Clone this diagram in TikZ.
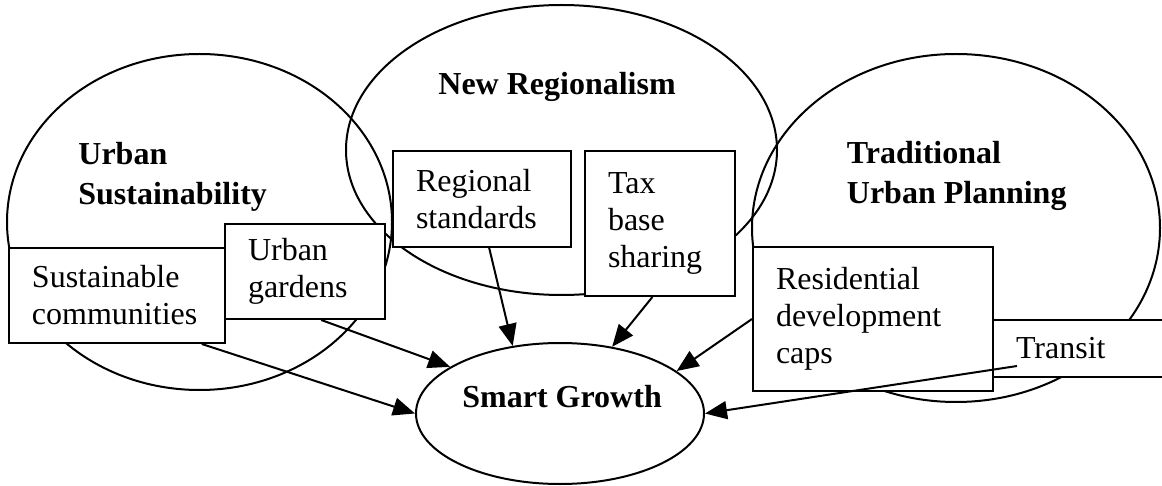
\documentclass[tikz,border=0pt]{standalone}
\usepackage{fontspec}
\setmainfont{Liberation Serif}
\usetikzlibrary{positioning,calc,shapes.geometric,arrows.meta}
\tikzset{>={Triangle[length=11pt,width=9pt]}}
\tikzset{
  field/.style={ellipse,draw,line width=1pt,inner sep=0pt},
  title/.style={anchor=west,align=left,inner sep=0pt,
    font=\fontsize{16}{20}\selectfont\bfseries},
  item/.style={draw,fill=white,line width=1pt,anchor=north west,align=left,
    inner xsep=11.5pt,inner ysep=0pt,font=\fontsize{16}{18.5}\selectfont},
  feed/.style={->,line width=1pt}
}

\begin{document}
\begin{tikzpicture}[x=0.5pt,y=-0.5pt]
\useasboundingbox (0,0) rectangle (1162,486);
\clip (0,0) rectangle (1162,486);
% Units are pixels of the original, y downwards

% Centres of the fields and of the goal
\coordinate (U) at (199.5,222);
\coordinate (R) at (561.5,150);
\coordinate (P) at (956,228);
\coordinate (G) at (560,413.5);

% Draw the three fields
\node [field,minimum width=192.5pt,minimum height=168pt] (us) at (U) {};
\node [field,minimum width=215.5pt,minimum height=145pt] (nr) at (R) {};
\node [field,minimum width=204pt,minimum height=174pt] (tup) at (P) {};

\node [title] (ustitle) at (78,176.5) {Urban\\Sustainability};
\node [title,anchor=base west] (nrtitle) at (438,95) {New Regionalism};
\node [title] (tuptitle) at (846.5,176) {Traditional\\Urban Planning};

% Boxes, placed by their top left corners
\node [item,text width=85pt,minimum height=47.5pt] (sc) at (8,247) {Sustainable\\communities};
\node [item,text width=57pt,minimum height=47.5pt] (ug) at (224,223) {Urban\\gardens};
\node [item,text width=66pt,minimum height=48pt] (rs) at (392,150) {Regional\\standards};
\node [item,text width=52pt,minimum height=72.5pt] (tbs) at (584,150) {Tax\\base\\sharing};
\node [item,text width=97pt,minimum height=72pt] (rdc) at (752,246) {Residential\\development\\caps};
\node [item,text width=87pt,minimum height=28.5pt] (tr) at (992,319) {Transit};
\coordinate (trfoot) at ($(tr.north west)+(25,47)$);

% Goal
\node [field,fill=white,minimum width=144pt,minimum height=70.5pt] (sg) at (G) {};
\node [title,anchor=base west] (sgtitle) at (462,408) {Smart Growth};

% Arrows into the goal
\draw [feed] ($(sc.south west)!0.889!(sc.south east)$) -- (sg.west);
\draw [feed] ($(ug.south west)!0.6!(ug.south east)$) -- (sg.157);
\draw [feed] ($(rs.south west)!0.54!(rs.south east)$) -- (sg.125);
\draw [feed] ($(tbs.south west)!0.45!(tbs.south east)$) -- (sg.52);
\draw [feed] (rdc.west) -- (sg.20);
\draw [feed] (trfoot) -- (sg.east);

\end{tikzpicture}
\end{document}
